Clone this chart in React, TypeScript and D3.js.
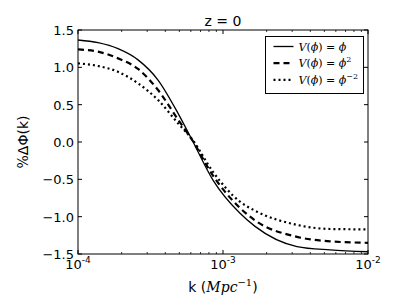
import * as d3 from "d3"

// wavenumbers (Mpc^-1) where the curves were read
const kValues = [1e-4, 1.374e-4, 1.888e-4, 2.594e-4, 3.564e-4, 4.897e-4, 6.11e-4, 8.53e-4, 1.31e-3, 1.663e-3, 3.237e-3, 5.47e-3, 1e-2]

const linearPhi = [1.366, 1.33, 1.25, 1.1, 0.83, 0.384, 0.03, -0.51, -0.955, -1.13, -1.4, -1.446, -1.47]
const quadPhi = [1.24, 1.21, 1.12, 0.978, 0.696, 0.3, 0.03, -0.45, -0.884, -1.05, -1.27, -1.33, -1.35]
const inversePhi = [1.054, 1.018, 0.94, 0.786, 0.5625, 0.25, 0.04, -0.4, -0.8, -0.92, -1.11, -1.165, -1.17]

const yTicks = [1.5, 1.0, 0.5, 0.0, -0.5, -1.0, -1.5]
const xTicks = [1e-4, 1e-3, 1e-2]
const xTickExp = ["-4", "-3", "-2"]

const series = [
  { values: linearPhi, dash: "none", width: 1.3, sup: "" },
  { values: quadPhi, dash: "6,4", width: 2.2, sup: "2" },
  { values: inversePhi, dash: "2,3", width: 2.2, sup: "−2" },
]

export default function App() {
  const W = 409
  const H = 307
  const margin = { top: 30, right: 41, bottom: 53, left: 78 }
  const iw = W - margin.left - margin.right
  const ih = H - margin.top - margin.bottom

  const x = d3.scaleLog().domain([1e-4, 1e-2]).range([0, iw])
  const y = d3.scaleLinear().domain([-1.5, 1.5]).range([ih, 0])

  const line = d3
    .line<number>()
    .x((_, i) => x(kValues[i]))
    .y((d) => y(d))
    .curve(d3.curveMonotoneX)

  const minor: number[] = []
  for (let e = -4; e < -2; e++) {
    for (let m = 2; m <= 9; m++) minor.push(m * Math.pow(10, e))
  }

  const fmt = (v: number) => d3.format(".1f")(v).replace("-", "−")
  const serif = "DejaVu Serif"
  const sans = "DejaVu Sans"

  return (
    <div style={{ position: "fixed", left: 0, top: 0 }}>
      <svg width={W} height={H} style={{ display: "block", background: "white" }}>
        <text x={margin.left + iw / 2} y={26} textAnchor="middle" fontFamily={sans} fontSize={14}>
          z = 0
        </text>
        <g transform={`translate(${margin.left},${margin.top})`}>
          {series.map((s, i) => (
            <path
              key={i}
              d={line(s.values) || ""}
              fill="none"
              stroke="black"
              strokeWidth={s.width}
              strokeDasharray={s.dash}
            />
          ))}
          <rect x={0} y={0} width={iw} height={ih} fill="none" stroke="black" strokeWidth={1} />

          {yTicks.map((t) => (
            <g key={t}>
              <line x1={0} x2={4} y1={y(t)} y2={y(t)} stroke="black" />
              <line x1={iw - 4} x2={iw} y1={y(t)} y2={y(t)} stroke="black" />
              <text x={-4} y={y(t) + 5} textAnchor="end" fontFamily={sans} fontSize={13}>
                {fmt(t)}
              </text>
            </g>
          ))}

          {xTicks.map((t, i) => (
            <g key={t}>
              <line x1={x(t)} x2={x(t)} y1={ih} y2={ih - 4} stroke="black" />
              <line x1={x(t)} x2={x(t)} y1={0} y2={4} stroke="black" />
              <text x={x(t)} y={ih + 15} textAnchor="middle" fontFamily={sans} fontSize={13}>
                10
                <tspan dy={-6} fontSize={9}>
                  {xTickExp[i]}
                </tspan>
              </text>
            </g>
          ))}
          {minor.map((t) => (
            <g key={t}>
              <line x1={x(t)} x2={x(t)} y1={ih} y2={ih - 2} stroke="black" strokeWidth={0.8} />
              <line x1={x(t)} x2={x(t)} y1={0} y2={2} stroke="black" strokeWidth={0.8} />
            </g>
          ))}

          <text x={iw / 2} y={ih + 38} textAnchor="middle" fontFamily={sans} fontSize={14}>
            k (
            <tspan fontFamily={serif} fontStyle="italic">
              Mpc
            </tspan>
            <tspan dy={-6} fontSize={10} fontFamily={serif}>
              −1
            </tspan>
            <tspan dy={6}>)</tspan>
          </text>

          <text
            transform={`translate(${-50},${ih / 2}) rotate(-90)`}
            textAnchor="middle"
            fontFamily={sans}
            fontSize={14}
          >
            <tspan fontFamily={serif}>%</tspan>ΔΦ(k)
          </text>

          <g transform={`translate(${265.5 - margin.left},${36.5 - margin.top})`}>
            <rect x={0} y={0} width={98} height={57} fill="white" stroke="black" strokeWidth={1} />
            {series.map((s, i) => (
              <g key={i} transform={`translate(0,${10 + i * 16.7})`}>
                <line
                  x1={8}
                  x2={28}
                  y1={0}
                  y2={0}
                  stroke="black"
                  strokeWidth={s.width}
                  strokeDasharray={s.dash}
                />
                <text x={33} y={4} fontFamily={serif} fontSize={11}>
                  <tspan fontStyle="italic">V</tspan>(<tspan fontStyle="italic">ϕ</tspan>) ={" "}
                  <tspan fontStyle="italic">ϕ</tspan>
                  {s.sup && (
                    <tspan dy={-5} fontSize={8}>
                      {s.sup}
                    </tspan>
                  )}
                </text>
              </g>
            ))}
          </g>
        </g>
      </svg>
    </div>
  )
}
